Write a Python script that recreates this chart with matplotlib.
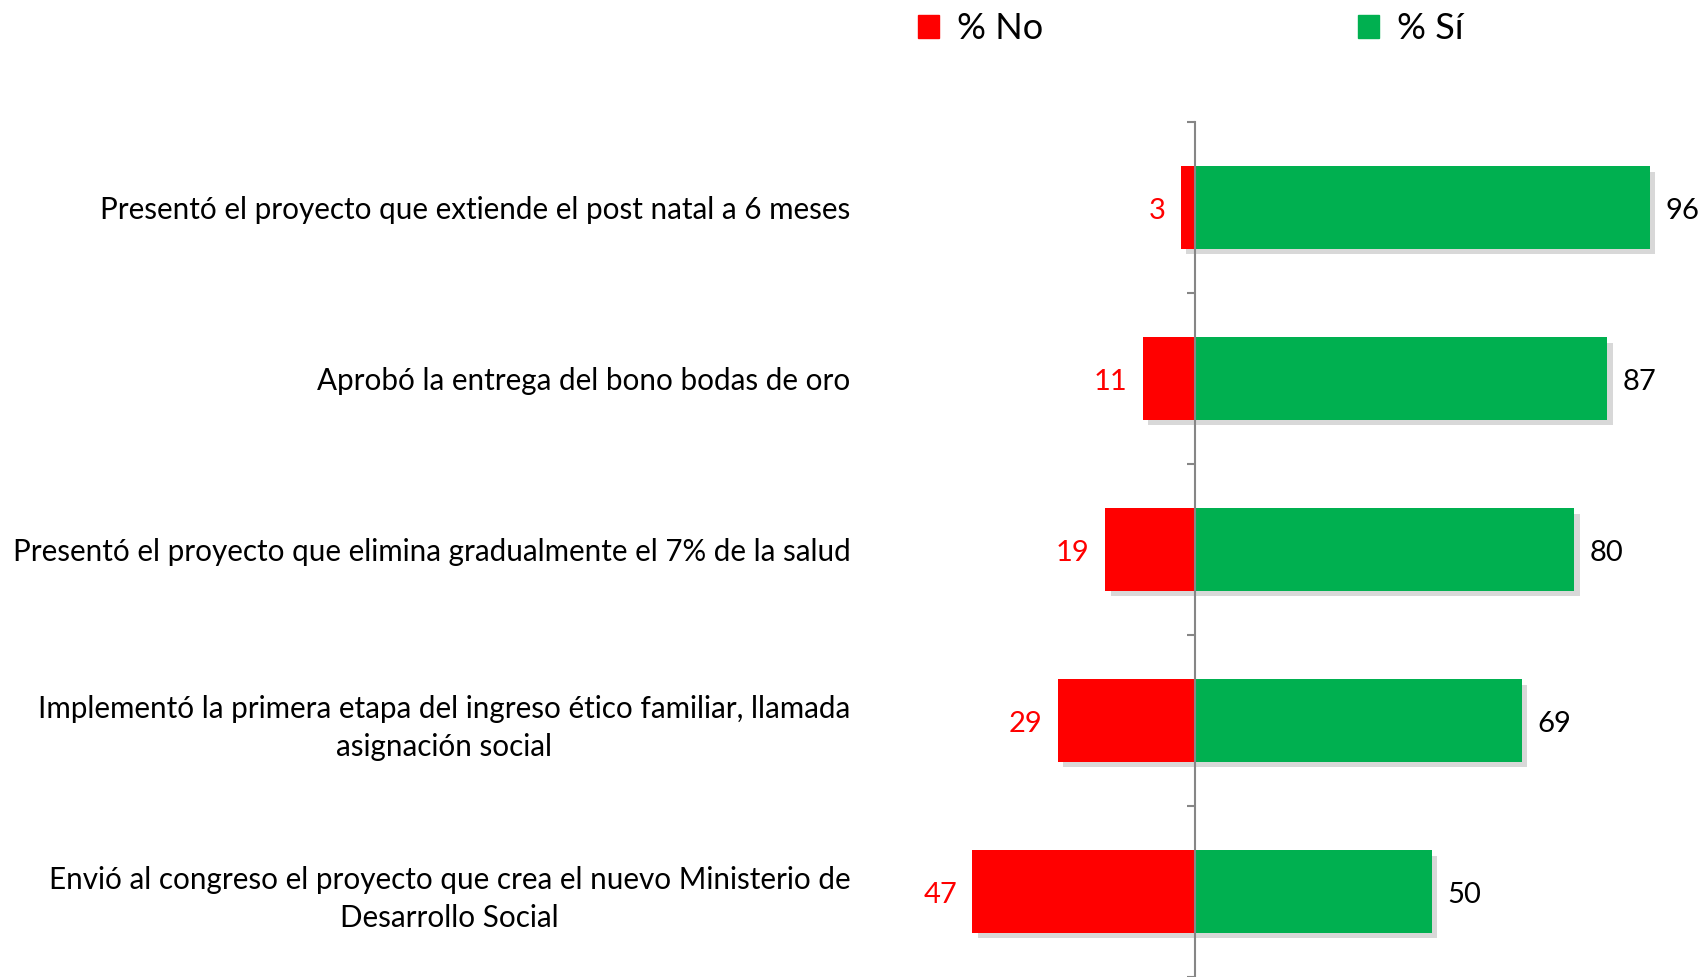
import matplotlib
matplotlib.use("Agg")
import matplotlib.pyplot as plt
import matplotlib.patheffects as pe
from matplotlib.patches import Patch
import numpy as np

categories = [
    "Presentó el proyecto que extiende el post natal a 6 meses",
    "Aprobó la entrega del bono bodas de oro",
    "Presentó el proyecto que elimina gradualmente el 7% de la salud",
    "Implementó la primera etapa del ingreso ético familiar, llamada\nasignación social",
    "Envió al congreso el proyecto que crea el nuevo Ministerio de\nDesarrollo Social",
]
pct_no = [3, 11, 19, 29, 47]
pct_si = [96, 87, 80, 69, 50]

RED = "#FF0000"
GREEN = "#00B050"
AXIS_GREY = "#868686"

plt.rcParams['font.family'] = ['Lato', 'DejaVu Sans']

fig = plt.figure(figsize=(17.02, 9.77), dpi=100)
ax = fig.add_axes([0.5, 0.0, 0.5, 855 / 977])

y = np.arange(len(categories))
shadow = [pe.SimplePatchShadow(offset=(4, -4), shadow_rgbFace="#7f7f7f", alpha=0.3), pe.Normal()]

bars_no = ax.barh(y, [-v for v in pct_no], height=0.48, color=RED, zorder=2)
bars_si = ax.barh(y, pct_si, height=0.48, color=GREEN, zorder=2)
for b in list(bars_no) + list(bars_si):
    b.set_path_effects(shadow)

for i in range(len(categories)):
    ax.annotate(str(pct_no[i]), (-pct_no[i], y[i]), xytext=(-11, -2.5), textcoords="offset points",
                ha="right", va="center", color=RED, fontsize=21)
    ax.annotate(str(pct_si[i]), (pct_si[i], y[i]), xytext=(11, -2.5), textcoords="offset points",
                ha="left", va="center", color="black", fontsize=21)

ax.set_xlim(-72.6, 107)
ax.set_ylim(len(categories) - 0.5, -0.5)

for side in ["top", "right", "bottom"]:
    ax.spines[side].set_visible(False)
ax.spines["left"].set_position(("data", 0))
ax.spines["left"].set_color(AXIS_GREY)
ax.spines["left"].set_linewidth(1.5)
ax.spines["left"].set_zorder(3)

ax.set_xticks([])
ax.set_yticks(y)
ax.set_yticklabels(categories, fontsize=21.3)
ax.set_yticks(np.arange(len(categories) + 1) - 0.5, minor=True)
ax.tick_params(axis="y", which="major", length=0, pad=248)
ax.tick_params(axis="y", which="minor", length=6, color=AXIS_GREY, width=1.5)
for lbl in ax.get_yticklabels():
    lbl.set_multialignment("center")
    lbl.set_linespacing(1.45)

handles = [Patch(color=RED, label="% No"), Patch(color=GREEN, label="% Sí")]
fig.legend(handles=handles, loc="upper left", bbox_to_anchor=(0.52, 1.021), ncol=2, frameon=False,
           fontsize=26, handlelength=0.6, handleheight=0.6, handletextpad=0.5, columnspacing=8.7)

fig.savefig("out.png", dpi=100)
